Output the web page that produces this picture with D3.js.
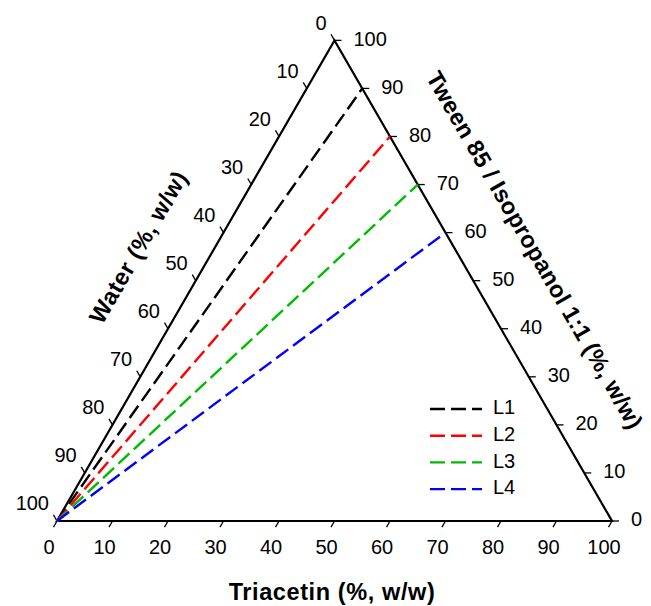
<!DOCTYPE html>
<html><head><meta charset="utf-8">
<script src="https://cdn.jsdelivr.net/npm/d3@7"></script>
<style>body{margin:0;background:#fff}svg{display:block}text{font-family:"Liberation Sans",Arial,sans-serif;fill:#000}</style>
</head><body>
<script>
// ---- data ----
const tickValues = [0,10,20,30,40,50,60,70,80,90,100];
const seriesNames = ["L1","L2","L3","L4"];
const seriesColors = ["#000000","#ff0000","#00bb00","#0000ff"];
// each dilution line: start composition (triacetin, tween, water) -> end composition
const startTriacetin = [0,0,0,0];
const startTween = [0,0,0,0];
const startWater = [100,100,100,100];
const endTriacetin = [10,20,30,40];
const endTween = [90,80,70,60];
const endWater = [0,0,0,0];
const axisTitles = {bottom:"Triacetin (%, w/w)", left:"Water (%, w/w)", right:"Tween 85 / Isopropanol 1:1 (%, w/w)"};

const W=651,H=606;
const svg=d3.select("body").append("svg").attr("width",W).attr("height",H);
const x0=57, y0=521, side=555;
const s=d3.scaleLinear().domain([0,100]).range([0,side]);
const h=Math.sqrt(3)/2;
// ternary projection (triacetin -> bottom-right, tween -> top, water -> bottom-left)
function P(tri,tw){return [x0+s(tri)+s(tw)/2, y0-s(tw)*h];}

// triangle
const BL=P(0,0),BR=P(100,0),TP=P(0,100);
svg.append("path").attr("d",d3.line()([BL,BR,TP,BL])+"Z").attr("fill","none").attr("stroke","#000").attr("stroke-width",2.2).attr("stroke-linejoin","miter");

const tl=7, fs=20;
// bottom axis (Triacetin): ticks pointing down-left
const gB=svg.append("g");
tickValues.forEach(v=>{const p=P(v,0);
 gB.append("line").attr("x1",p[0]).attr("y1",p[1]).attr("x2",p[0]-tl*0.5).attr("y2",p[1]+tl*h).attr("stroke","#000").attr("stroke-width",1.3);
 gB.append("text").attr("x",p[0]-8).attr("y",p[1]+28).attr("text-anchor","middle").attr("dominant-baseline","middle").attr("font-size",fs).text(v);});
// right axis (Tween): ticks pointing right
const gR=svg.append("g");
tickValues.forEach(v=>{const p=P(100-v,v);
 gR.append("line").attr("x1",p[0]).attr("y1",p[1]).attr("x2",p[0]+tl).attr("y2",p[1]).attr("stroke","#000").attr("stroke-width",1.3);
 gR.append("text").attr("x",p[0]+19).attr("y",p[1]).attr("text-anchor","start").attr("dominant-baseline","middle").attr("font-size",fs).text(v);});
// left axis (Water): 0 at top, ticks pointing up-left
const gL=svg.append("g");
tickValues.forEach(v=>{const p=P(0,100-v);
 gL.append("line").attr("x1",p[0]).attr("y1",p[1]).attr("x2",p[0]-tl*0.5).attr("y2",p[1]-tl*h).attr("stroke","#000").attr("stroke-width",1.3);
 gL.append("text").attr("x",p[0]-8).attr("y",p[1]-16).attr("text-anchor","end").attr("dominant-baseline","middle").attr("font-size",fs).text(v);});

// dashed lines
seriesNames.forEach((n,i)=>{
 const a=P(startTriacetin[i],startTween[i]), b=P(endTriacetin[i],endTween[i]);
 svg.append("path").attr("d",d3.line()([a,b])).attr("stroke",seriesColors[i]).attr("stroke-width",2.4).attr("stroke-dasharray","15,6").attr("fill","none");
});

// legend
const lg=svg.append("g");
seriesNames.forEach((n,i)=>{const y=409+i*26.7;
 lg.append("line").attr("x1",430).attr("x2",482).attr("y1",y).attr("y2",y).attr("stroke",seriesColors[i]).attr("stroke-width",2.4).attr("stroke-dasharray","15,6");
 lg.append("text").attr("x",493).attr("y",y).attr("dominant-baseline","middle").attr("font-size",fs).text(n);});

// titles
const tfs=23.5, ls=0.6;
svg.append("text").attr("x",332).attr("y",594).attr("text-anchor","middle").attr("dominant-baseline","middle").attr("font-size",tfs).attr("letter-spacing",ls).attr("font-weight","bold").text(axisTitles.bottom);
svg.append("text").attr("transform","translate(140,248) rotate(-60)").attr("text-anchor","middle").attr("dominant-baseline","middle").attr("font-size",tfs).attr("letter-spacing",ls).attr("font-weight","bold").text(axisTitles.left);
svg.append("text").attr("transform","translate(533,251) rotate(60)").attr("text-anchor","middle").attr("dominant-baseline","middle").attr("font-size",tfs).attr("letter-spacing",0.3).attr("font-weight","bold").text(axisTitles.right);
</script>
</body></html>
